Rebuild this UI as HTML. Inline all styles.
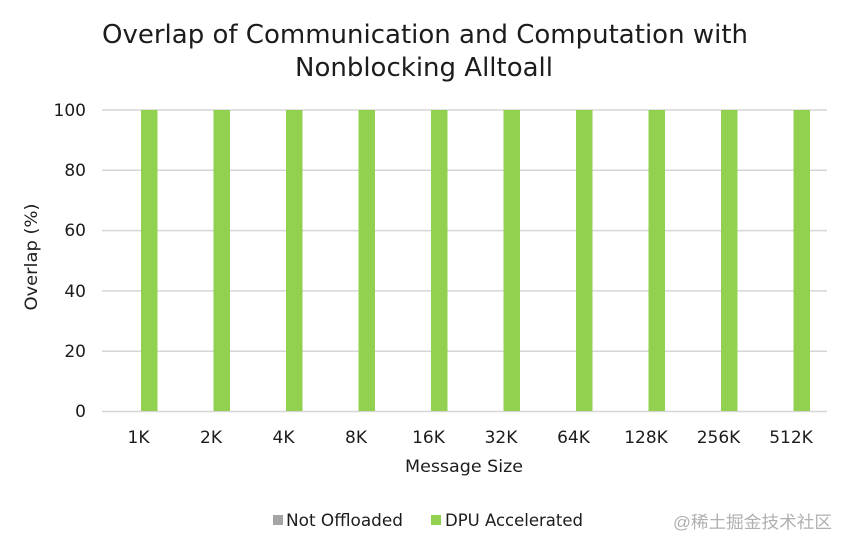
<!DOCTYPE html>
<html>
<head>
<meta charset="utf-8">
<style>
html,body{margin:0;padding:0;background:#fff;}
svg{display:block;}
text{font-family:"DejaVu Sans","Liberation Sans",sans-serif;fill:#1c1c1c;}
</style>
</head>
<body>
<svg width="850" height="549" viewBox="0 0 850 549" xmlns="http://www.w3.org/2000/svg">
<rect width="850" height="549" fill="#fff"/>
<!-- title -->
<text x="102" y="43" font-size="26" textLength="646" lengthAdjust="spacingAndGlyphs">Overlap of Communication and Computation with</text>
<text x="295" y="76" font-size="26" textLength="258" lengthAdjust="spacingAndGlyphs">Nonblocking Alltoall</text>
<!-- gridlines -->
<g stroke="#d6d6d6" stroke-width="1.5">
<line x1="102" y1="110" x2="827" y2="110"/>
<line x1="102" y1="170.3" x2="827" y2="170.3"/>
<line x1="102" y1="230.6" x2="827" y2="230.6"/>
<line x1="102" y1="290.9" x2="827" y2="290.9"/>
<line x1="102" y1="351.2" x2="827" y2="351.2"/>
<line x1="102" y1="411.5" x2="827" y2="411.5"/>
</g>
<!-- y tick labels -->
<g font-size="17" text-anchor="end">
<text x="86" y="116">100</text>
<text x="86" y="176">80</text>
<text x="86" y="236">60</text>
<text x="86" y="297">40</text>
<text x="86" y="357">20</text>
<text x="86" y="417">0</text>
</g>
<!-- y title -->
<text transform="translate(37,257) rotate(-90)" font-size="17" text-anchor="middle" textLength="107" lengthAdjust="spacingAndGlyphs">Overlap (%)</text>
<!-- bars -->
<g fill="#92d050">
<rect x="141" y="110" width="16.5" height="301"/>
<rect x="213.5" y="110" width="16.5" height="301"/>
<rect x="286" y="110" width="16.5" height="301"/>
<rect x="358.5" y="110" width="16.5" height="301"/>
<rect x="431" y="110" width="16.5" height="301"/>
<rect x="503.5" y="110" width="16.5" height="301"/>
<rect x="576" y="110" width="16.5" height="301"/>
<rect x="648.5" y="110" width="16.5" height="301"/>
<rect x="721" y="110" width="16.5" height="301"/>
<rect x="793.5" y="110" width="16.5" height="301"/>
</g>
<!-- x tick labels -->
<g font-size="17" text-anchor="middle">
<text x="138.5" y="443">1K</text>
<text x="211" y="443">2K</text>
<text x="283.5" y="443">4K</text>
<text x="356" y="443">8K</text>
<text x="428.5" y="443">16K</text>
<text x="501" y="443">32K</text>
<text x="573.5" y="443">64K</text>
<text x="646" y="443">128K</text>
<text x="718.5" y="443">256K</text>
<text x="791" y="443">512K</text>
</g>
<!-- x title -->
<text x="405" y="472" font-size="17" textLength="118" lengthAdjust="spacingAndGlyphs">Message Size</text>
<!-- legend -->
<rect x="273" y="515" width="10" height="10" fill="#a5a5a5"/>
<text x="286" y="526" font-size="17" textLength="117" lengthAdjust="spacingAndGlyphs">Not Offloaded</text>
<rect x="431" y="515" width="10" height="10" fill="#92d050"/>
<text x="445" y="526" font-size="17" textLength="138" lengthAdjust="spacingAndGlyphs">DPU Accelerated</text>
<!-- watermark -->
<text x="673" y="528" font-size="17" style="font-family:'Liberation Sans','Noto Sans CJK SC',sans-serif;fill:#b0b0b0" textLength="159" lengthAdjust="spacingAndGlyphs">@稀土掘金技术社区</text>
</svg>
</body>
</html>
